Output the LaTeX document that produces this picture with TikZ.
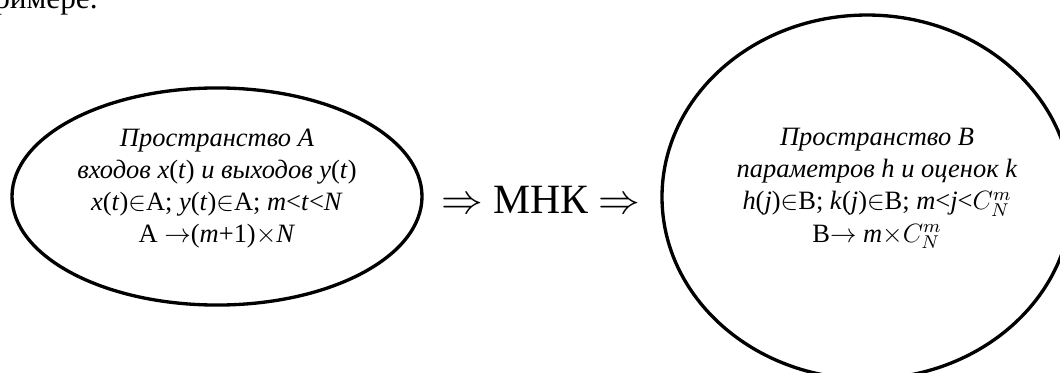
\RequirePackage{fix-cm}
\documentclass[tikz,border=0pt]{standalone}
\usepackage{fontspec}
\setmainfont{Liberation Serif}
\usetikzlibrary{shapes.geometric, positioning}

\begin{document}
\begin{tikzpicture}[x=0.48pt, y=-0.48pt,
    space/.style={ellipse, draw, line width=1.6pt, inner sep=0pt, minimum width=196.8pt},
    spacetext/.style={align=center, font=\fontsize{12.7}{15.4}\selectfont}
]
\useasboundingbox (0,0) rectangle (1060,372);

% Text above the figure
\node[anchor=base east, inner sep=0pt, font=\fontsize{15}{18}\selectfont] (prev) at (98,9) {примере.};

% Space A
\node[space, minimum height=104.2pt] (spaceA) at (217,196.5) {};
\node[spacetext] (textA) at (217,188.5) {\textit{Пространство A}\\
    \textit{входов x}(\textit{t}) \textit{и выходов y}(\textit{t})\\
    \textit{x}(\textit{t})$\in$A; \textit{y}(\textit{t})$\in$A; \textit{m}<\textit{t}<\textit{N}\\
    A $\rightarrow$(\textit{m}+1)$\times$\textit{N}};

% Method
\node[anchor=base, font=\fontsize{20}{24}\selectfont] (mnk) at (541,213) {$\Rightarrow$ МНК $\Rightarrow$};

% Space B
\node[space, minimum height=174.7pt] (spaceB) at (867,197) {};
\node[spacetext] (textB) at (877,188.5) {\textit{Пространство B}\\
    \textit{параметров h и оценок k}\\
    \textit{h}(\textit{j})$\in$B; \textit{k}(\textit{j})$\in$B; \textit{m}<\textit{j}<$C_N^m$\\
    B$\rightarrow$ \textit{m}$\times C_N^m$};

\end{tikzpicture}
\end{document}
